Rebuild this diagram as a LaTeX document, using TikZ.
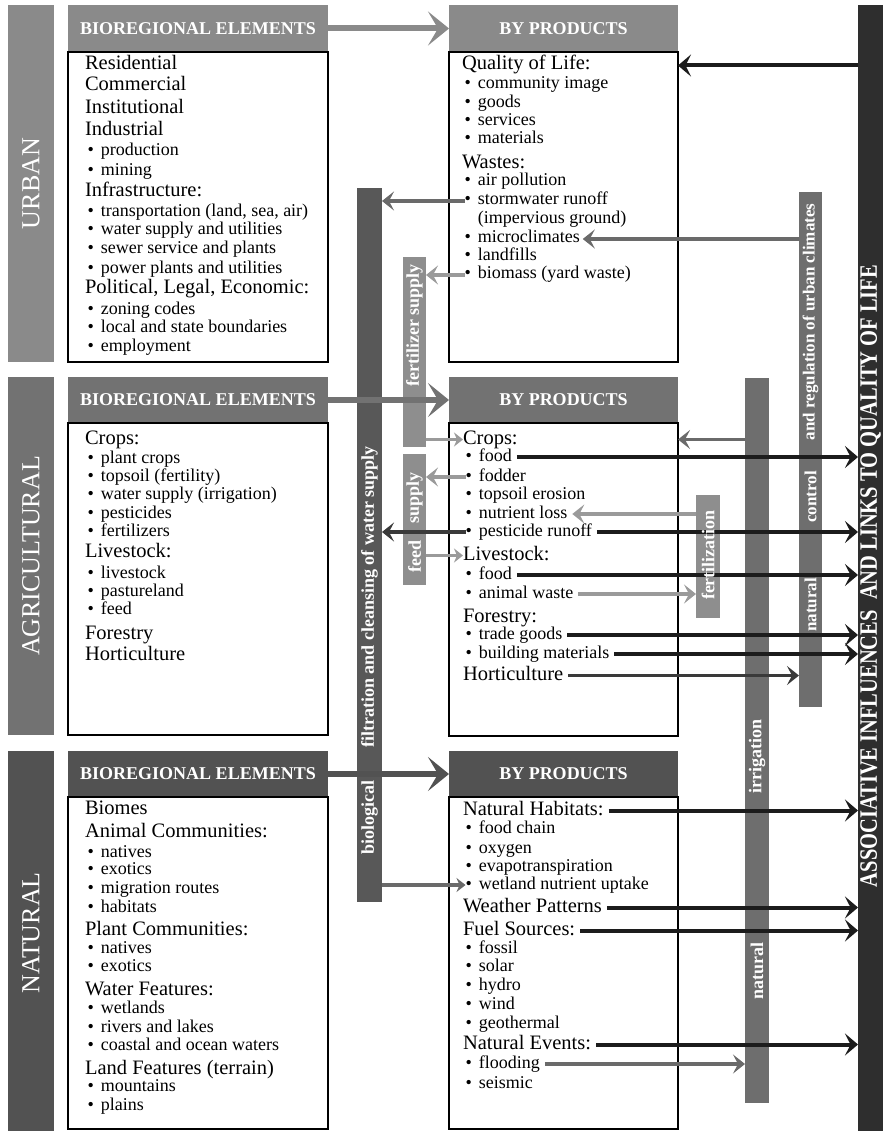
\documentclass[tikz,border=0pt]{standalone}
\usepackage{fontspec}
\setmainfont{Liberation Serif}
\usetikzlibrary{arrows.meta}
\definecolor{urbgray}{HTML}{8A8A8A}
\definecolor{agrgray}{HTML}{727272}
\definecolor{natgray}{HTML}{525252}
\definecolor{barlight}{HTML}{8E8E8E}
\definecolor{barmid}{HTML}{6E6E6E}
\definecolor{bardark}{HTML}{585858}
\definecolor{assocgray}{HTML}{2E2E2E}
\definecolor{linkblack}{HTML}{1C1C1C}
\definecolor{darkarr}{HTML}{3A3A3A}
\definecolor{midarr}{HTML}{6A6A6A}
\definecolor{lightarr}{HTML}{9A9A9A}
\tikzset{every node/.style={inner sep=0pt, outer sep=0pt},
    >={Stealth[length=12pt,width=19pt,inset=5pt]},
    sidebar/.style={fill=#1, minimum width=46pt, anchor=north west},
    sidetext/.style={rotate=90, text=white, font=\fontsize{26}{26}\selectfont},
    header/.style={fill=#1, text=white, anchor=north west,
        font=\bfseries\fontsize{18}{18}\selectfont},
    bodybox/.style={draw=black, line width=1.5pt, fill=white, anchor=north west},
    bar/.style={fill=#1, anchor=north west},
    bartext/.style={rotate=90, text=white, font=\bfseries\fontsize{18}{18}\selectfont},
    elhead/.style={anchor=base west, text height=14pt, text depth=5pt,
        font=\fontsize{20.5}{22}\selectfont},
    elitem/.style={anchor=base west, xshift=2.5pt, text height=12pt, text depth=4pt,
        font=\fontsize{18}{19}\selectfont,
        execute at begin node={\textbullet\hspace{7pt}}},
    elcont/.style={anchor=base west, xshift=15.8pt, text height=12pt, text depth=4pt,
        font=\fontsize{18}{19}\selectfont},
    flow/.style={draw=#1, line width=6pt, -{Stealth[length=21pt,width=34pt,inset=10pt]}},
    link/.style={draw=#1, line width=3.5pt, ->},
    smalltip/.style={-{Stealth[length=9pt,width=14pt,inset=3pt]}},
    toqol/.style={draw=linkblack, line width=4pt, -{Stealth[length=13pt,width=22pt,inset=5.5pt]}}}
\begin{document}
\begin{tikzpicture}[x=1pt,y=-1pt]
    \useasboundingbox (0,0) rectangle (883,1131);
    % the three groups
    \node[sidebar=urbgray, minimum height=357pt] (urbanbar) at (8,5) {};
    \node[sidebar=agrgray, minimum height=358pt] (agribar) at (8,377) {};
    \node[sidebar=natgray, minimum height=380pt] (natbar) at (8,751) {};
    \node[sidetext] (urbantxt) at (urbanbar.center) {URBAN};
    \node[sidetext] (agritxt) at (agribar.center) {AGRICULTURAL};
    \node[sidetext] (nattxt) at (31,933) {NATURAL};
    \node[header=urbgray, minimum width=260pt, minimum height=47pt] (ubio) at (68,5) {BIOREGIONAL ELEMENTS};
    \node[bodybox, minimum width=260pt, minimum height=310pt] (ubiobox) at (68,52) {};
    \node[header=agrgray, minimum width=260pt, minimum height=46pt] (abio) at (68,377) {BIOREGIONAL ELEMENTS};
    \node[bodybox, minimum width=260pt, minimum height=312pt] (abiobox) at (68,423) {};
    \node[header=natgray, minimum width=260pt, minimum height=46pt] (nbio) at (68,751) {BIOREGIONAL ELEMENTS};
    \node[bodybox, minimum width=260pt, minimum height=332pt] (nbiobox) at (68,797) {};
    \node[header=urbgray, minimum width=229pt, minimum height=47pt] (ubyp) at (449,5) {BY PRODUCTS};
    \node[bodybox, minimum width=229pt, minimum height=310pt] (ubybox) at (449,52) {};
    \node[header=agrgray, minimum width=229pt, minimum height=46pt] (abyp) at (449,377) {BY PRODUCTS};
    \node[bodybox, minimum width=229pt, minimum height=313pt] (abybox) at (449,423) {};
    \node[header=natgray, minimum width=229pt, minimum height=46pt] (nbyp) at (449,751) {BY PRODUCTS};
    \node[bodybox, minimum width=229pt, minimum height=332pt] (nbybox) at (449,797) {};
    % influence bars
    \node[bar=bardark, minimum width=25pt, minimum height=714pt] (filt) at (357,188) {};
    \node[bar=barlight, minimum width=23pt, minimum height=190pt] (fert) at (403,257) {};
    \node[bar=barlight, minimum width=23pt, minimum height=131pt] (feedbar) at (403,454) {};
    \node[bar=barlight, minimum width=24pt, minimum height=123pt] (fertz) at (696,495) {};
    \node[bar=barmid, minimum width=24pt, minimum height=725pt] (irrig) at (745,378) {};
    \node[bar=barmid, minimum width=23pt, minimum height=515pt] (ctrl) at (799,192) {};
    \node[bar=assocgray, minimum width=25pt, minimum height=1126pt] (assoc) at (858,5) {};
    % box contents
    \foreach \y/\sty/\nm/\txt in {70/elhead/ue1/Residential, 91/elhead/ue2/Commercial,
        114/elhead/ue3/Institutional, 136/elhead/ue4/Industrial, 156/elitem/ue5/production,
        176/elitem/ue6/mining, 197/elhead/ue7/Infrastructure:,
        217/elitem/ue8/{transportation (land, sea, air)}, 235/elitem/ue9/water supply and utilities,
        254/elitem/ue10/sewer service and plants, 273/elitem/ue11/power plants and utilities,
        294/elhead/ue12/{Political, Legal, Economic:}, 314/elitem/ue13/zoning codes,
        332/elitem/ue14/local and state boundaries, 351/elitem/ue15/employment}
        \node[\sty] (\nm) at (85,\y) {\txt};
    \foreach \y/\sty/\nm/\txt in {70/elhead/ubq/Quality of Life:, 89/elitem/ub2/community image,
        108/elitem/ub3/goods, 126/elitem/ub4/services, 144/elitem/ub5/materials,
        169/elhead/ubw/Wastes:, 186/elitem/ub7/air pollution, 205/elitem/storm/stormwater runoff,
        224/elcont/ub9/(impervious ground), 243/elitem/micro/microclimates,
        261/elitem/ub11/landfills, 279/elitem/biomass/biomass (yard waste)}
        \node[\sty] (\nm) at (462,\y) {\txt};
    \foreach \y/\sty/\nm/\txt in {444/elhead/ae1/Crops:, 463/elitem/ae2/plant crops,
        481/elitem/ae3/topsoil (fertility), 499/elitem/ae4/water supply (irrigation),
        518/elitem/ae5/pesticides, 536/elitem/ae6/fertilizers, 557/elhead/ae7/Livestock:,
        578/elitem/ae8/livestock, 596/elitem/ae9/pastureland, 614/elitem/ae10/feed,
        639/elhead/ae11/Forestry, 660/elhead/ae12/Horticulture}
        \node[\sty] (\nm) at (85,\y) {\txt};
    \foreach \y/\sty/\nm/\txt in {444/elhead/acrops/Crops:, 461/elitem/cfood/food,
        481/elitem/fodder/fodder, 499/elitem/ab4/topsoil erosion, 518/elitem/nutloss/nutrient loss,
        536/elitem/pest/pesticide runoff, 560/elhead/alive/Livestock:, 579/elitem/lfood/food,
        598/elitem/waste/animal waste, 622/elhead/ab10/Forestry:, 639/elitem/trade/trade goods,
        658/elitem/build/building materials, 680/elhead/horti/Horticulture}
        \node[\sty] (\nm) at (463,\y) {\txt};
    \foreach \y/\sty/\nm/\txt in {814/elhead/ne1/Biomes, 837/elhead/ne2/Animal Communities:,
        857/elitem/ne3/natives, 874/elitem/ne4/exotics, 893/elitem/ne5/migration routes,
        912/elitem/ne6/habitats, 935/elhead/ne7/Plant Communities:, 953/elitem/ne8/natives,
        971/elitem/ne9/exotics, 995/elhead/ne10/Water Features:, 1013/elitem/ne11/wetlands,
        1032/elitem/ne12/rivers and lakes, 1050/elitem/ne13/coastal and ocean waters,
        1074/elhead/ne14/Land Features (terrain), 1091/elitem/ne15/mountains, 1110/elitem/ne16/plains}
        \node[\sty] (\nm) at (85,\y) {\txt};
    \foreach \y/\sty/\nm/\txt in {815/elhead/habit/Natural Habitats:, 833/elitem/nb2/food chain,
        853/elitem/nb3/oxygen, 871/elitem/nb4/evapotranspiration, 889/elitem/wetl/wetland nutrient uptake,
        912/elhead/weath/Weather Patterns, 935/elhead/fuel/Fuel Sources:, 953/elitem/nb8/fossil,
        971/elitem/nb9/solar, 990/elitem/nb10/hydro, 1009/elitem/nb11/wind, 1028/elitem/nb12/geothermal,
        1049/elhead/events/Natural Events:, 1068/elitem/flood/flooding, 1088/elitem/nb15/seismic}
        \node[\sty] (\nm) at (463,\y) {\txt};
    % elements to by products
    \draw[flow=urbgray] (ubio.east) -- (ubyp.west);
    \draw[flow=agrgray] (abio.east) -- (abyp.west);
    \draw[flow=natgray] (nbio.east) -- (nbyp.west);
    % left side links
    \draw[link=midarr] (storm.west) -- (storm.west -| filt.east);
    \draw[link=lightarr] (biomass.west) -- (biomass.west -| fert.east);
    \draw[link=lightarr, smalltip] (acrops.west -| fert.east) -- (acrops.west);
    \draw[link=lightarr] (fodder.west) -- (fodder.west -| feedbar.east);
    \draw[link=darkarr] (pest.west) -- (pest.west -| filt.east);
    \draw[link=lightarr, smalltip] (alive.west -| feedbar.east) -- (alive.west);
    \draw[link=midarr, smalltip] (wetl.west -| filt.east) -- (wetl.west);
    % right side links
    \draw[toqol] (ubq.east -| assoc.west) -- (ubq.east -| ubybox.east);
    \draw[link=midarr] (micro.east -| ctrl.west) -- ([xshift=3pt]micro.east);
    \draw[link=midarr] (acrops.east -| irrig.west) -- (acrops.east -| abybox.east);
    \draw[link=lightarr] (nutloss.east -| fertz.west) -- ([xshift=5pt]nutloss.east);
    \draw[link=lightarr] ([xshift=5pt]waste.east) -- (waste.east -| fertz.west);
    \draw[link=darkarr] ([xshift=5pt]horti.east) -- (horti.east -| ctrl.west);
    \draw[link=midarr] ([xshift=5pt]flood.east) -- (flood.east -| irrig.west);
    \foreach \nm in {cfood, pest, lfood, trade, build, habit, weath, fuel, events}
        \draw[toqol] ([xshift=5pt]\nm.east) -- (\nm.east -| assoc.west);
    % bar labels
    \node[bartext] (biotxt) at (369.5,817.5) {biological};
    \node[bartext] (filttxt) at (369.5,597) {filtration and cleansing of water supply};
    \node[bartext] (ferttxt) at (414.5,325.5) {fertilizer supply};
    \node[bartext] (supplytxt) at (414.5,498) {supply};
    \node[bartext] (feedtxt) at (414.5,556.5) {feed};
    \node[bartext] (fertztxt) at (708,555) {fertilization};
    \node[bartext] (irrigtxt) at (757,756.5) {irrigation};
    \node[bartext] (irnattxt) at (757,971) {natural};
    \node[bartext, font=\bfseries\fontsize{17}{17}\selectfont] (ctnattxt) at (810.5,605) {natural};
    \node[bartext, font=\bfseries\fontsize{17}{17}\selectfont] (ctrltxt) at (810.5,497) {control};
    \node[bartext, font=\bfseries\fontsize{17}{17}\selectfont] (regtxt) at (810.5,322) {and regulation of urban climates};
    \node[rotate=90, text=white, font=\bfseries\fontsize{25}{25}\selectfont] (assoctxt) at (870.5,576)
        {\scalebox{0.82}[1]{ASSOCIATIVE INFLUENCES\ \ AND LINKS TO QUALITY OF LIFE}};
\end{tikzpicture}
\end{document}
